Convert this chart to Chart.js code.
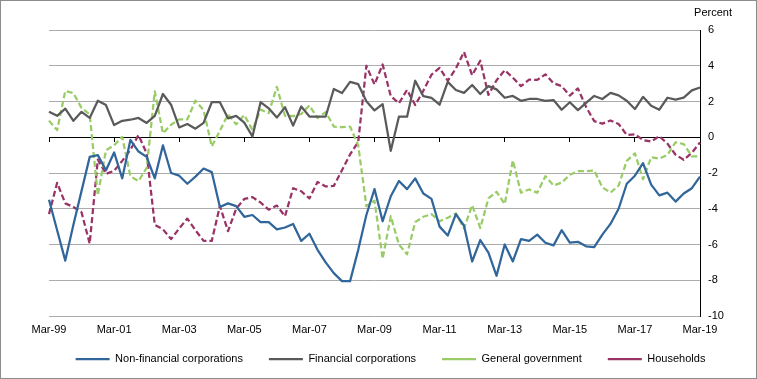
<!DOCTYPE html>
<html><head><meta charset="utf-8">
<script src="https://cdn.jsdelivr.net/npm/chart.js@4.4.1/dist/chart.umd.min.js"></script>
<style>
html,body{margin:0;padding:0;background:#fff;}
#wrap{position:relative;width:757px;height:379px;}
#frame{position:absolute;left:0;top:0;width:757px;height:379px;box-sizing:border-box;border:1px solid #8c8c8c;pointer-events:none;}
canvas{display:block;}
</style></head><body>
<div id="wrap"><canvas id="c" width="757" height="379"></canvas><div id="frame"></div></div>
<script>
const quarters = [
"Mar-99","Jun-99","Sep-99","Dec-99","Mar-00","Jun-00","Sep-00","Dec-00",
"Mar-01","Jun-01","Sep-01","Dec-01","Mar-02","Jun-02","Sep-02","Dec-02",
"Mar-03","Jun-03","Sep-03","Dec-03","Mar-04","Jun-04","Sep-04","Dec-04",
"Mar-05","Jun-05","Sep-05","Dec-05","Mar-06","Jun-06","Sep-06","Dec-06",
"Mar-07","Jun-07","Sep-07","Dec-07","Mar-08","Jun-08","Sep-08","Dec-08",
"Mar-09","Jun-09","Sep-09","Dec-09","Mar-10","Jun-10","Sep-10","Dec-10",
"Mar-11","Jun-11","Sep-11","Dec-11","Mar-12","Jun-12","Sep-12","Dec-12",
"Mar-13","Jun-13","Sep-13","Dec-13","Mar-14","Jun-14","Sep-14","Dec-14",
"Mar-15","Jun-15","Sep-15","Dec-15","Mar-16","Jun-16","Sep-16","Dec-16",
"Mar-17","Jun-17","Sep-17","Dec-17","Mar-18","Jun-18","Sep-18","Dec-18",
"Mar-19"];

const nonFinancial = [
-3.5, -5.2, -6.9, -4.9, -3.0, -1.1, -1.0, -1.85, -0.85, -2.3,
-0.15, -0.8, -1.1, -2.3, -0.45, -2.0, -2.15, -2.6, -2.2, -1.75,
-1.95, -3.9, -3.7, -3.85, -4.45, -4.35, -4.75, -4.75, -5.15, -5.05,
-4.85, -5.8, -5.4, -6.3, -7.0, -7.6, -8.05, -8.05, -6.3, -4.35,
-2.9, -4.7, -3.3, -2.45, -2.9, -2.3, -3.15, -3.45, -5.0, -5.5,
-4.3, -4.95, -6.95, -5.75, -6.45, -7.75, -6.0, -6.95, -5.7, -5.8,
-5.45, -5.9, -6.05, -5.2, -5.9, -5.85, -6.1, -6.15, -5.45, -4.85,
-4.0, -2.6, -2.15, -1.45, -2.65, -3.25, -3.1, -3.6, -3.15, -2.85,
-2.2];

const financial = [
1.43, 1.2, 1.6, 0.92, 1.42, 1.08, 2.04, 1.8, 0.68, 0.92,
0.98, 1.08, 0.8, 1.2, 2.42, 1.82, 0.55, 0.74, 0.48, 0.8,
1.96, 1.96, 1.06, 1.2, 0.82, 0.04, 1.96, 1.62, 1.1, 1.68,
0.65, 1.72, 1.16, 1.16, 1.16, 2.7, 2.47, 3.1, 2.97, 2.02,
1.5, 1.85, -0.76, 1.15, 1.15, 3.16, 2.3, 2.2, 1.82, 3.1,
2.64, 2.48, 2.92, 2.42, 2.86, 2.68, 2.21, 2.31, 2.04, 2.14,
2.14, 2.04, 2.08, 1.54, 1.96, 1.52, 1.92, 2.31, 2.14, 2.48,
2.34, 2.04, 1.58, 2.26, 1.76, 1.54, 2.21, 2.1, 2.22, 2.62,
2.78];

const government = [
0.93, 0.4, 2.59, 2.47, 1.64, 1.28, -3.25, -0.73, -0.45, 0.02,
-2.18, -2.45, -1.72, 2.57, 0.22, 0.7, 1.0, 1.0, 2.05, 1.52,
-0.52, 0.36, 1.28, 0.72, 1.25, 0.4, 1.55, 1.35, 2.82, 1.2,
1.18, 1.3, 1.78, 1.07, 1.41, 0.6, 0.56, 0.6, -0.45, -3.85,
-3.55, -6.8, -4.42, -6.0, -6.55, -4.75, -4.45, -4.3, -4.7, -4.5,
-4.26, -5.1, -3.8, -5.08, -3.42, -3.05, -3.74, -1.3, -3.1, -2.92,
-3.1, -2.18, -2.7, -2.54, -2.1, -1.9, -1.9, -1.86, -2.8, -3.1,
-2.7, -1.32, -0.9, -2.35, -1.12, -1.2, -0.98, -0.28, -0.38, -1.07,
-1.07];

const households = [
-4.3, -2.55, -3.7, -3.9, -4.2, -5.95, -1.25, -2.05, -1.88, -1.32,
-0.7, 0.12, -0.9, -4.9, -5.15, -5.7, -5.1, -4.55, -5.2, -5.8,
-5.8, -3.85, -5.25, -4.0, -3.45, -3.35, -3.65, -4.05, -3.82, -4.42,
-2.85, -3.02, -3.42, -2.5, -2.75, -2.72, -1.85, -0.96, -0.26, 4.0,
2.95, 4.07, 2.3, 1.9, 2.65, 1.8, 2.6, 3.5, 3.88, 3.16,
3.85, 4.77, 3.47, 4.28, 2.37, 3.19, 3.75, 3.33, 2.86, 3.22,
3.21, 3.52, 3.02, 2.86, 2.33, 2.73, 1.7, 0.9, 0.76, 0.94,
0.74, 0.13, 0.17, -0.16, -0.24, 0.06, -0.36, -0.98, -1.26, -0.87,
-0.29];

const seriesNames = ["Non-financial corporations","Financial corporations","General government","Households"];
const yMin = -10, yMax = 6, yStep = 2;
const labelEvery = 8;

const FONT = "'Liberation Sans', Arial, Helvetica, sans-serif";
Chart.defaults.font.family = FONT;
Chart.defaults.font.size = 11;
Chart.defaults.color = '#000';

const keepEvery = s => { s.ticks = s.ticks.filter(t => t.value % labelEvery === 0); };

function ds(label, data, color, dash) {
  return { label, data, borderColor: color, backgroundColor: color, borderWidth: 2.25,
           borderDash: dash || [], pointRadius: 0, pointHoverRadius: 0, tension: 0, fill: false,
           borderJoinStyle: 'round', borderCapStyle: 'butt' };
}

new Chart(document.getElementById('c'), {
  type: 'line',
  data: {
    labels: quarters,
    datasets: [
      ds(seriesNames[0], nonFinancial, '#31669B'),
      ds(seriesNames[1], financial, '#5A5A5A'),
      ds(seriesNames[2], government, '#99CC66', [6, 3]),
      ds(seriesNames[3], households, '#993366', [6, 3])
    ]
  },
  options: {
    responsive: false, animation: false, devicePixelRatio: 1,
    layout: { padding: { left: 49, right: 25, top: 0, bottom: 4.5 } },
    scales: {
      x: { type: 'category', position: 'bottom', offset: false,
           grid: { display: false, drawTicks: false }, border: { display: false },
           ticks: { autoSkip: false, maxRotation: 0, minRotation: 0, mirror: true, padding: -20.1, color: '#000' },
           afterBuildTicks: keepEvery, afterFit: s => { s.height = 11.5; } },
      x0: { type: 'category', axis: 'x', position: { y: 0 }, offset: false,
            grid: { drawOnChartArea: false, drawTicks: true, tickLength: 4, color: '#000', lineWidth: 1 },
            border: { display: true, color: '#000', width: 1 },
            ticks: { display: false }, afterBuildTicks: keepEvery },
      y: { type: 'linear', position: 'right', min: yMin, max: yMax,
           ticks: { stepSize: yStep, padding: 8, color: '#000' },
           grid: { color: '#ABABAB', lineWidth: 1, drawTicks: false },
           border: { display: true, color: '#000', width: 1 },
           afterFit: s => { s.width = 32; } }
    },
    plugins: {
      legend: { position: 'bottom', align: 'center',
                labels: { usePointStyle: true, pointStyle: 'line', pointStyleWidth: 34, boxWidth: 34,
                          boxHeight: 11, padding: 26, color: '#000', font: { size: 11 } } },
      title: { display: true, text: 'Percent', align: 'end', color: '#000',
               font: { size: 11, weight: 'normal' }, padding: { top: 6.7, bottom: 10.1 } },
      tooltip: { enabled: false }
    }
  }
});
</script>
</body></html>
